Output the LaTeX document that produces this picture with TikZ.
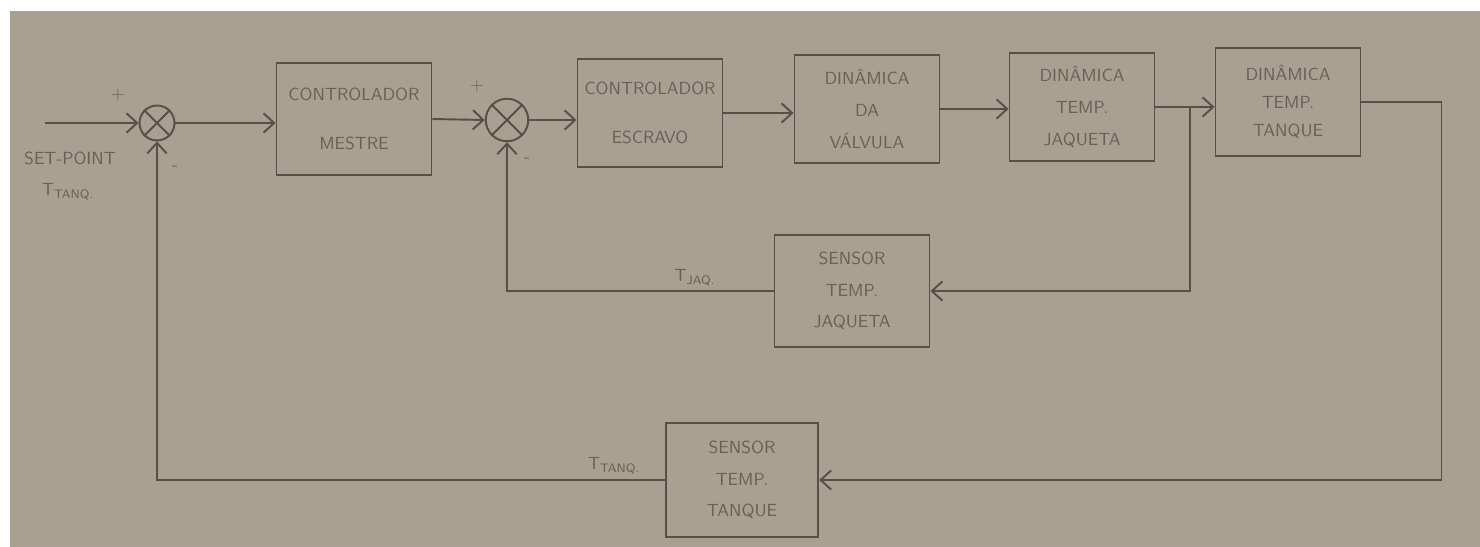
\documentclass[tikz,border=0pt]{standalone}
\usepackage{amsmath, amssymb}
\usepackage{xcolor}
\usepackage{tikz}
\usetikzlibrary{calc, positioning, arrows.meta}

\definecolor{papel}{RGB}{168,160,145}
\definecolor{lapis}{RGB}{88,79,70}
\definecolor{grafite}{RGB}{104,95,86}

\tikzset{
  bloco/.style={draw=lapis, line width=1.1pt, minimum width=2.9cm, minimum height=2.15cm,
    align=center, text=grafite, font=\sffamily},
  somador/.style={draw=lapis, line width=1.1pt, circle, minimum size=0.7cm, inner sep=0pt},
  linha/.style={draw=lapis, line width=1.1pt},
  rotulo/.style={text=grafite, font=\sffamily},
}

\begin{document}
\begin{tikzpicture}[x=0.02cm, y=-0.02cm, >={Straight Barb[length=6pt,width=11pt]}]
    % Fundo (papel)
    \fill[white] (0,0) rectangle (1480,547);
    \fill[papel] (10,11) rectangle (1480,547);
    \useasboundingbox (0,0) rectangle (1480,547);

    % Somadores
    \node[somador] (s1) at (157,123) {};
    \node[somador, minimum size=0.85cm] (s2) at (507,120) {};
    \foreach \s in {s1, s2}
        \draw[linha] (\s.north west) -- (\s.south east) (\s.north east) -- (\s.south west);

    % Blocos da malha direta
    \node[bloco, minimum width=3.1cm, minimum height=2.24cm] (mestre) at (354,119) {CONTROLADOR\\[16pt]MESTRE};
    \node[bloco] (esc) at (650,113) {CONTROLADOR\\[16pt]ESCRAVO};
    \node[bloco] (val) at (867,109) {DINÂMICA\\[6pt]DA\\[6pt]VÁLVULA};
    \node[bloco] (jaq) at (1082,107) {DINÂMICA\\[6pt]TEMP.\\[6pt]JAQUETA};
    \node[bloco] (tan) at (1288,102) {DINÂMICA\\[4pt]TEMP.\\[4pt]TANQUE};

    % Sensores
    \node[bloco, minimum width=3.1cm, minimum height=2.24cm] (sjaq) at (852,291) {SENSOR\\[6pt]TEMP.\\[6pt]JAQUETA};
    \node[bloco, minimum width=3.05cm, minimum height=2.28cm] (stan) at (742,480) {SENSOR\\[6pt]TEMP.\\[6pt]TANQUE};

    % Entrada
    \coordinate (ent) at (45,123);
    \draw[linha, ->] (ent) -- (s1.west);

    % Malha direta
    \draw[linha, ->] (s1.east) -- (s1.east -| mestre.west);
    \draw[linha, ->] (mestre.east) -- (s2.west);
    \draw[linha, ->] (s2.east) -- (s2.east -| esc.west);
    \draw[linha, ->] (esc.east) -- (esc.east -| val.west);
    \draw[linha, ->] (val.east) -- (val.east -| jaq.west);
    \draw[linha, ->] (jaq.east) -- (jaq.east -| tan.west);

    % Realimentacoes
    \coordinate (ram) at ($(jaq.east)!0.58!(jaq.east -| tan.west)$);
    \draw[linha, ->] (ram) |- (sjaq.east);
    \draw[linha, ->] (sjaq.west) -| (s2.south);
    \draw[linha, ->] (tan.east) -- ++(80,0) |- (stan.east);
    \draw[linha, ->] (stan.west) -| (s1.south);

    % Rotulos
    \node[rotulo] (mais1) at (118,95) {+};
    \node[rotulo] (menos1) at (175,168) {-};
    \node[rotulo] (mais2) at (477,86) {+};
    \node[rotulo] (menos2) at (527,160) {-};
    \node[rotulo] (sp) at (70,158) {SET-POINT};
    \node[rotulo] (tsp) at (68,192) {T\textsubscript{TANQ.}};
    \node[rotulo] (tj) at (695,278) {T\textsubscript{JAQ.}};
    \node[rotulo] (tt) at (614,466) {T\textsubscript{TANQ.}};
\end{tikzpicture}
\end{document}
